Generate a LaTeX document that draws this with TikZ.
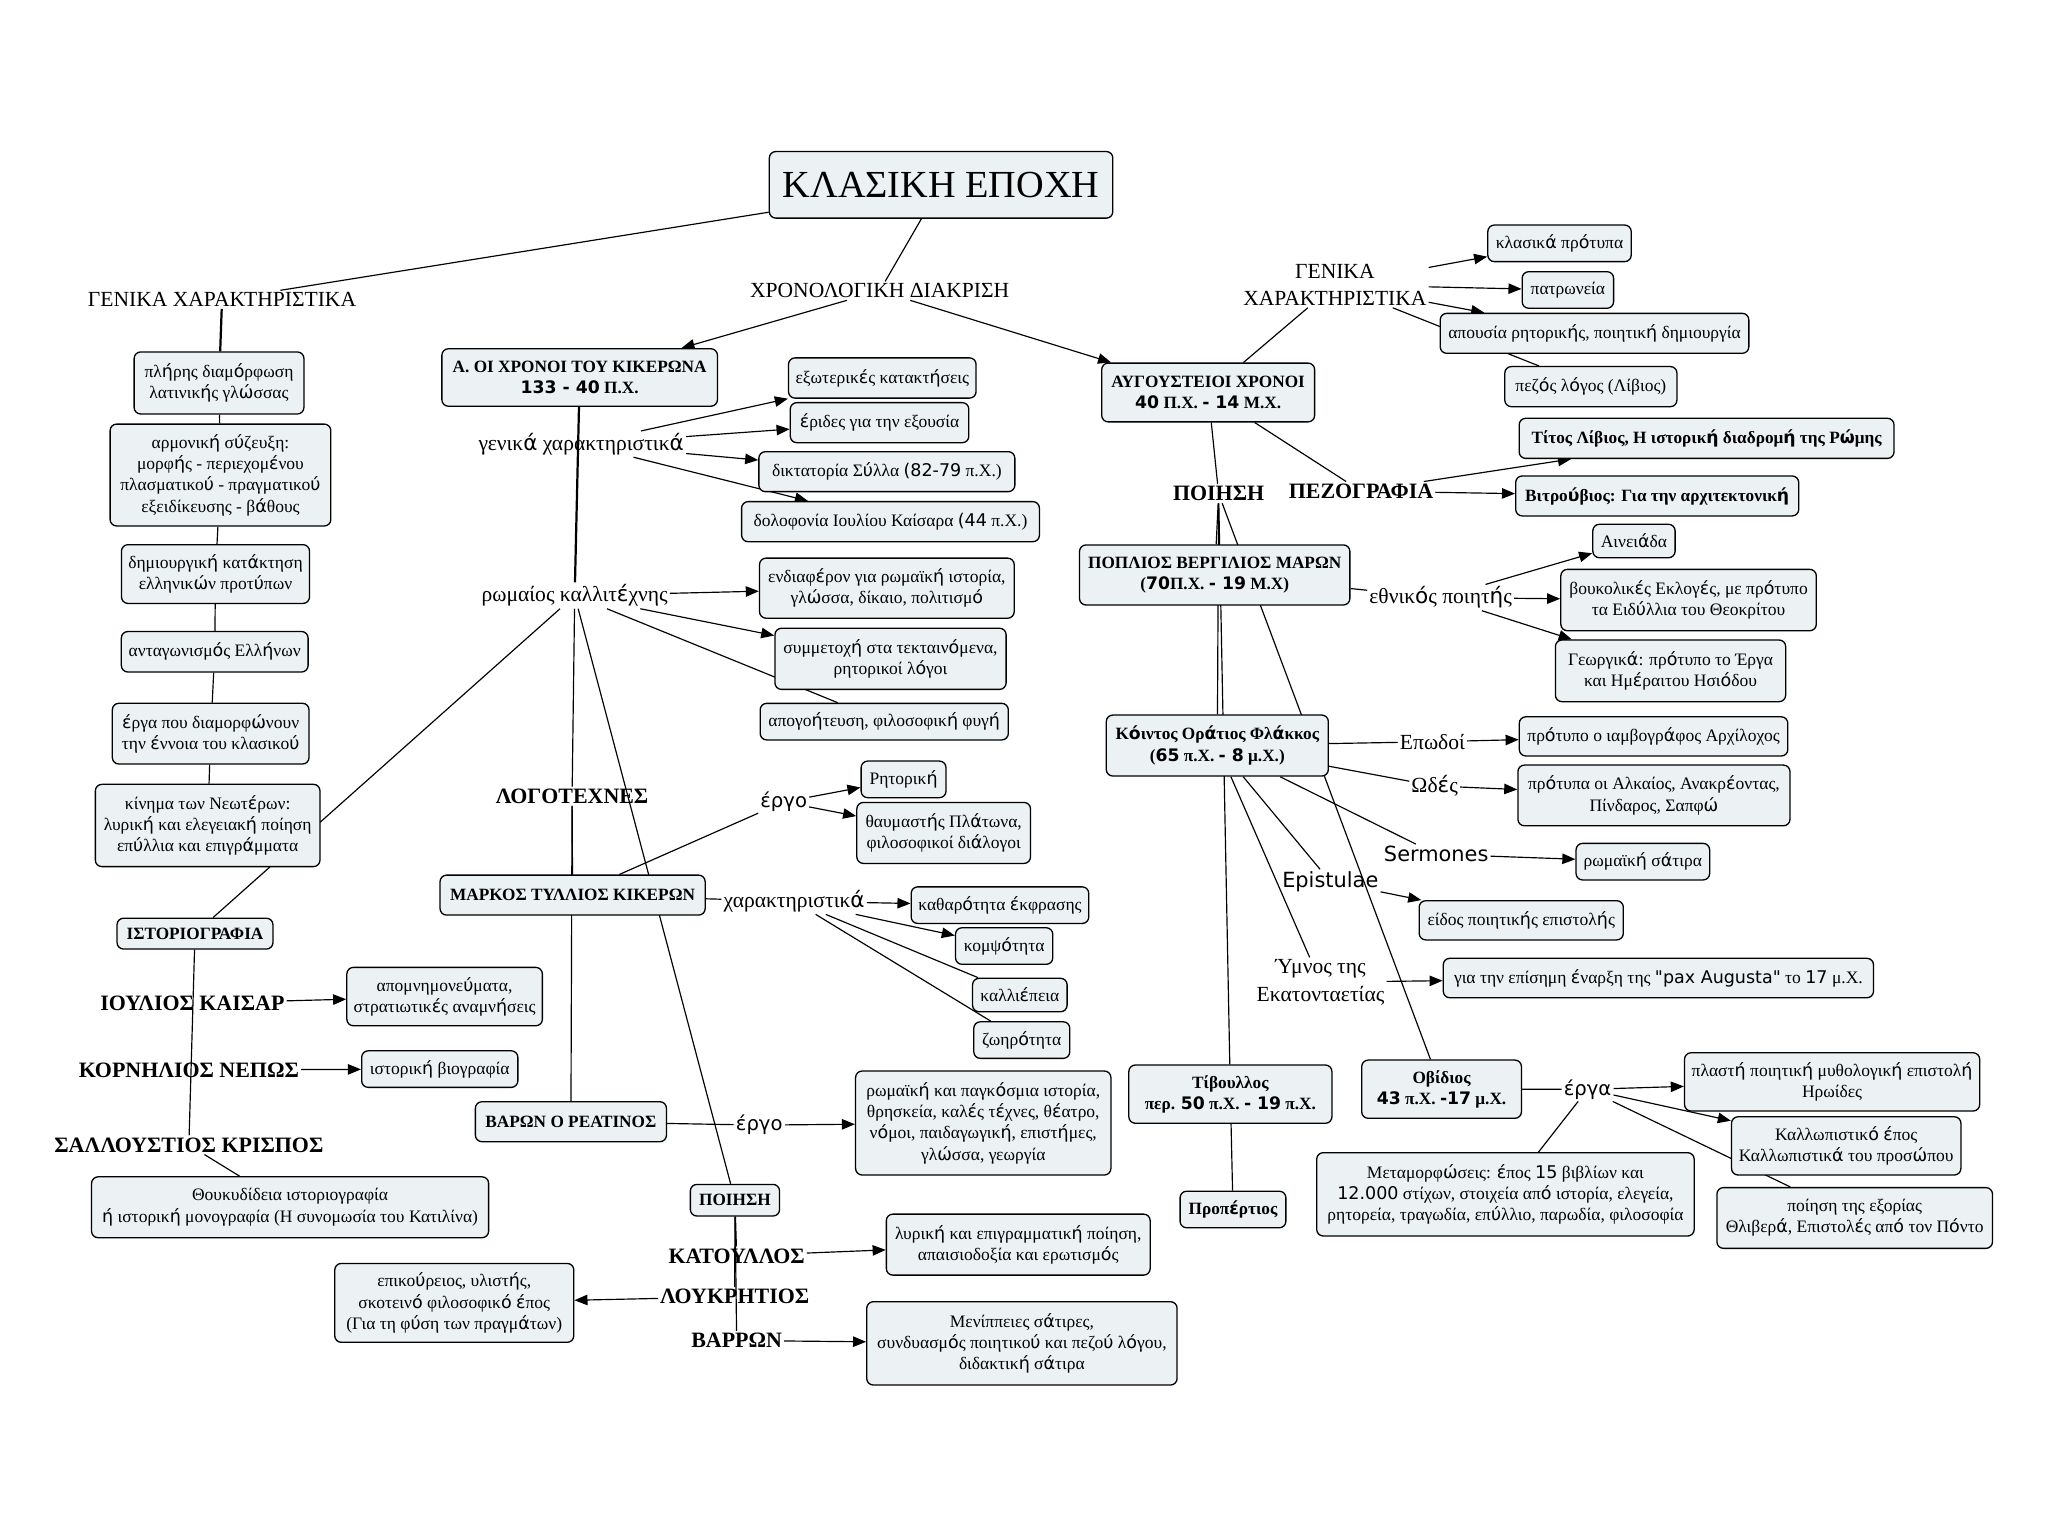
\documentclass[tikz,border=0pt]{standalone}
\usepackage{fontspec}
\setmainfont{Liberation Serif}
\newfontfamily\sn{DejaVu Sans}
\XeTeXinterchartokenstate=1
\newXeTeXintercharclass\accclass
\XeTeXcharclass"03AC=\accclass
\XeTeXcharclass"03AD=\accclass
\XeTeXcharclass"03AE=\accclass
\XeTeXcharclass"03CC=\accclass
\XeTeXcharclass"03CD=\accclass
\XeTeXcharclass"03CE=\accclass
\XeTeXinterchartoks 0 \accclass={\begingroup\sn}
\XeTeXinterchartoks 4095 \accclass={\begingroup\sn}
\XeTeXinterchartoks \accclass 0={\endgroup}
\XeTeXinterchartoks \accclass 4095={\endgroup}
\usetikzlibrary{arrows.meta}
\pgfdeclarelayer{bg}
\pgfsetlayers{bg,main}
\definecolor{boxfill}{RGB}{236,241,244}
\tikzset{
 bx/.style={draw=black, line width=1pt, rounded corners=5pt, fill=boxfill, align=center, inner sep=2pt, font=\fontsize{13.4}{16.3}\selectfont},
 bb/.style={bx, font=\fontsize{13.2}{16.3}\selectfont\bfseries},
 sz/.style 2 args={minimum width=#1pt, minimum height=#2pt},
 lab/.style={inner sep=1.5pt, align=center, font=\fontsize{16.5}{21}\selectfont},
 blab/.style={inner sep=1.5pt, align=center, font=\fontsize{16.8}{20}\selectfont\bfseries},
 slab/.style={inner sep=1.5pt, align=center, font=\sn\fontsize{15}{18}\selectfont},
 ln/.style={line width=0.9pt},
 ar/.style={line width=0.9pt, -{Triangle[length=10pt,width=8pt]}},
}
\begin{document}
\begin{tikzpicture}[x=1pt,y=-1pt]
\useasboundingbox (0,0) rectangle (1568,1179);
% ---------- top ----------
\node[bx, sz={263}{51}, font=\fontsize{29.3}{32}\selectfont] (title) at (720.5,141.5) {ΚΛΑΣΙΚΗ ΕΠΟΧΗ};
\node[lab] (gen1) at (170,229.4) {ΓΕΝΙΚΑ ΧΑΡΑΚΤΗΡΙΣΤΙΚΑ};
\node[lab] (chron) at (673.5,222.7) {ΧΡΟΝΟΛΟΓΙΚΗ ΔΙΑΚΡΙΣΗ};
\node[lab] (gen2) at (1022,218) {ΓΕΝΙΚΑ\\ΧΑΡΑΚΤΗΡΙΣΤΙΚΑ};
% ---------- left column ----------
\node[bx, sz={130}{47.5}] (b1) at (167.7,293.2) {πλήρης διαμόρφωση\\λατινικής γλώσσας};
\node[bx, sz={169}{78}] (b2) at (168.8,363.7) {αρμονική σύζευξη:\\μορφής - περιεχομένου\\πλασματικού - πραγματικού\\εξειδίκευσης - βάθους};
\node[bx, sz={144}{45}] (b3) at (165,439.5) {δημιουργική κατάκτηση\\ελληνικών προτύπων};
\node[bx, sz={143}{31}] (b4) at (164.4,499) {ανταγωνισμός Ελλήνων};
\node[bx, sz={150.6}{46.5}] (b5) at (161.3,561.7) {έργα που διαμορφώνουν\\την έννοια του κλασικού};
\node[bx, sz={172}{63}] (b6) at (159,632) {κίνημα των Νεωτέρων:\\λυρική και ελεγειακή ποίηση\\επύλλια και επιγράμματα};
\node[bb, sz={119.4}{23.6}] (ist) at (149.3,714.8) {ΙΣΤΟΡΙΟΓΡΑΦΙΑ};
\node[blab] (iul) at (147.3,768.2) {ΙΟΥΛΙΟΣ ΚΑΙΣΑΡ};
\node[bx, sz={149.7}{44.7}] (apomn) at (340.4,763) {απομνημονεύματα,\\στρατιωτικές αναμνήσεις};
\node[blab] (korn) at (144.6,819.2) {ΚΟΡΝΗΛΙΟΣ ΝΕΠΩΣ};
\node[bx, sz={119.6}{28}] (bio) at (336.7,818.5) {ιστορική βιογραφία};
\node[blab] (sall) at (144.6,876.6) {ΣΑΛΛΟΥΣΤΙΟΣ ΚΡΙΣΠΟΣ};
\node[bx, sz={304}{46.6}] (thuk) at (222.1,924.3) {Θουκυδίδεια ιστοριογραφία\\ή ιστορική μονογραφία (Η συνομωσία του Κατιλίνα)};
% ---------- Cicero era ----------
\node[bb, sz={211}{44}] (cic) at (443.8,289) {Α. ΟΙ ΧΡΟΝΟΙ ΤΟΥ ΚΙΚΕΡΩΝΑ\\{\sn 133 - 40} Π.Χ.};
\node[lab] (gk) at (445,340) {γενικά χαρακτηριστικά};
\node[bx, sz={143.6}{30.8}] (g1) at (675.5,289.4) {εξωτερικές κατακτήσεις};
\node[bx, sz={136.7}{30.7}] (g2) at (673.4,323.6) {έριδες για την εξουσία};
\node[bx, sz={196}{30.6}] (g3) at (679,361.1) {δικτατορία Σύλλα {\sn (82-79} π.Χ.)};
\node[bx, sz={228}{30.7}] (g4) at (681.8,399.4) {δολοφονία Ιουλίου Καίσαρα {\sn (44} π.Χ.)};
\node[lab] (rk) at (440,456) {ρωμαίος καλλιτέχνης};
\node[bx, sz={195}{46}] (r1) at (679,450.3) {ενδιαφέρον για ρωμαϊκή ιστορία,\\γλώσσα, δίκαιο, πολιτισμό};
\node[bx, sz={177}{46.8}] (r2) at (681.8,504.4) {συμμετοχή στα τεκταινόμενα,\\ρητορικοί λόγοι};
\node[bx, sz={190}{28}] (r3) at (677,552.5) {απογοήτευση, φιλοσοφική φυγή};
\node[blab] (logo) at (438,609.6) {ΛΟΓΟΤΕΧΝΕΣ};
\node[slab] (ergo1) at (600,614) {έργο};
\node[bx, sz={65}{28}] (rit) at (691.8,596.7) {Ρητορική};
\node[bx, sz={133}{46.7}] (thav) at (722.5,637.7) {θαυμαστής Πλάτωνα,\\φιλοσοφικοί διάλογοι};
\node[bb, sz={203}{30.6}] (mark) at (438.4,685.3) {ΜΑΡΚΟΣ ΤΥΛΛΙΟΣ ΚΙΚΕΡΩΝ};
\node[lab] (xar) at (608,690) {χαρακτηριστικά};
\node[bx, sz={136}{28}] (c1) at (765.6,693) {καθαρότητα έκφρασης};
\node[bx, sz={74.5}{28}] (c2) at (768.8,724.3) {κομψότητα};
\node[bx, sz={72.4}{25.6}] (c3) at (780.8,761.8) {καλλιέπεια};
\node[bx, sz={73.5}{28}] (c4) at (782.3,796.3) {ζωηρότητα};
\node[bb, sz={146.3}{30.6}] (var) at (437.1,858.8) {ΒΑΡΩΝ Ο ΡΕΑΤΙΝΟΣ};
\node[slab] (ergo2) at (581.3,861.4) {έργο};
\node[bx, sz={195.5}{79.6}] (pagk) at (752.8,859.8) {ρωμαϊκή και παγκόσμια ιστορία,\\θρησκεία, καλές τέχνες, θέατρο,\\νόμοι, παιδαγωγική, επιστήμες,\\γλώσσα, γεωργία};
\node[bb, sz={68.3}{24.2}] (poi1) at (562.7,918.9) {ΠΟΙΗΣΗ};
\node[blab] (katl) at (564,961.5) {ΚΑΤΟΥΛΛΟΣ};
\node[blab] (loukl) at (562.5,992.8) {ΛΟΥΚΡΗΤΙΟΣ};
\node[blab] (varrl) at (564,1026.3) {ΒΑΡΡΩΝ};
\node[bx, sz={202}{46.7}] (lyr) at (779.6,952.9) {λυρική και επιγραμματική ποίηση,\\απαισιοδοξία και ερωτισμός};
\node[bx, sz={183}{60.4}] (epik) at (347.8,997.5) {επικούρειος, υλιστής,\\σκοτεινό φιλοσοφικό έπος\\(Για τη φύση των πραγμάτων)};
\node[bx, sz={237.6}{63.8}] (men) at (782.4,1028.5) {Μενίππειες σάτιρες,\\συνδυασμός ποιητικού και πεζού λόγου,\\διδακτική σάτιρα};
% ---------- Augustan era ----------
\node[bb, sz={163}{45}] (aug) at (925,300.5) {ΑΥΓΟΥΣΤΕΙΟΙ ΧΡΟΝΟΙ\\{\sn 40} Π.Χ. {\sn - 14} Μ.Χ.};
\node[bx, sz={109.8}{28}] (k1) at (1194,186.3) {κλασικά πρότυπα};
\node[bx, sz={70}{28}] (k2) at (1200.4,222) {πατρωνεία};
\node[bx, sz={236.3}{30.6}] (k3) at (1220.8,255.2) {απουσία ρητορικής, ποιητική δημιουργία};
\node[bx, sz={131.8}{30.7}] (k4) at (1218,296) {πεζός λόγος (Λίβιος)};
\node[blab] (poi2) at (933,378) {ΠΟΙΗΣΗ};
\node[blab] (pez) at (1042,376) {ΠΕΖΟΓΡΑΦΙΑ};
\node[bb, sz={287}{30.7}] (p1) at (1306.6,335.6) {Τίτος Λίβιος, Η ιστορική διαδρομή της Ρώμης};
\node[bb, sz={216.7}{30.6}] (p2) at (1268.8,379.7) {Βιτρούβιος: Για την αρχιτεκτονική};
\node[bb, sz={207}{46}] (verg) at (930,440.2) {ΠΟΠΛΙΟΣ ΒΕΡΓΙΛΙΟΣ ΜΑΡΩΝ\\({\sn 70}Π.Χ. {\sn - 19} Μ.Χ)};
\node[lab] (ethn) at (1103,457.5) {εθνικός ποιητής};
\node[bx, sz={63}{25.6}] (v1) at (1251,414.2) {Αινειάδα};
\node[bx, sz={195.6}{47}] (v2) at (1292.8,459.4) {βουκολικές Εκλογές, με πρότυπο\\τα Ειδύλλια του Θεοκρίτου};
\node[bx, sz={176.3}{47.2}] (v3) at (1279,513.6) {Γεωργικά: πρότυπο το Έργα\\και Ημέραιτου Ησιόδου};
\node[bb, sz={170}{46.7}] (orat) at (932,570.8) {Κόιντος Οράτιος Φλάκκος\\({\sn 65} π.Χ. {\sn - 8} μ.Χ.)};
\node[lab] (epod) at (1096.7,567.9) {Επωδοί};
\node[bx, sz={205.6}{30}] (arx) at (1266,563.8) {πρότυπο ο ιαμβογράφος Αρχίλοχος};
\node[lab] (odes) at (1098.4,601.7) {Ωδές};
\node[bx, sz={208.3}{46.5}] (alk) at (1266.3,609) {πρότυπα οι Αλκαίος, Ανακρέοντας,\\Πίνδαρος, Σαπφώ};
\node[slab, font=\sn\fontsize{16}{19}\selectfont] (serm) at (1099.6,654) {Sermones};
\node[bx, sz={102.3}{28}] (sat) at (1257.8,659.7) {ρωμαϊκή σάτιρα};
\node[slab, font=\sn\fontsize{16}{19}\selectfont] (epis) at (1018.5,675) {Epistulae};
\node[bx, sz={156.3}{30}] (eidos) at (1164.7,704.6) {είδος ποιητικής επιστολής};
\node[lab] (ymn) at (1011,752) {Ύμνος της\\Εκατονταετίας};
\node[bx, sz={329.4}{30.2}] (pax) at (1269.7,748.8) {για την επίσημη έναρξη της {\sn "pax Augusta"} το {\sn 17} μ.Χ.};
\node[bb, sz={155.5}{44.6}] (tib) at (942,837.7) {Τίβουλλος\\περ. {\sn 50} π.Χ. {\sn - 19} π.Χ.};
\node[bb, sz={81}{28}] (prop) at (944,926) {Προπέρτιος};
\node[bb, sz={122.3}{44.6}] (ovid) at (1103.7,833.9) {Οβίδιος\\{\sn 43} π.Χ. {\sn -17} μ.Χ.};
\node[slab] (erga) at (1215.5,834) {έργα};
\node[bx, sz={226}{44.6}] (o1) at (1402.7,828.3) {πλαστή ποιητική μυθολογική επιστολή\\Ηρωίδες};
\node[bx, sz={175.6}{44.6}] (o2) at (1413.5,877.3) {Καλλωπιστικό έπος\\Καλλωπιστικά του προσώπου};
\node[bx, sz={211}{46.5}] (o3) at (1420,932.5) {ποίηση της εξορίας\\Θλιβερά, Επιστολές από τον Πόντο};
\node[bx, sz={289}{63.8}] (o4) at (1152.6,914.4) {Μεταμορφώσεις: έπος {\sn 15} βιβλίων και\\{\sn 12.000} στίχων, στοιχεία από ιστορία, ελεγεία,\\ρητορεία, τραγωδία, επύλλιο, παρωδία, φιλοσοφία};
% ---------- connectors ----------
\begin{pgfonlayer}{bg}
\draw[ln] (title) -- (gen1);
\draw[ln] (title) -- (chron);
\draw[ar] (chron) -- (cic);
\draw[ar] (chron) -- (aug);
\draw[ln, line width=1.7pt] (gen1) -- (b1);
\draw[ln] (b1) -- (b2);
\draw[ln] (b2) -- (b3);
\draw[ln] (b3) -- (b4);
\draw[ln] (b4) -- (b5);
\draw[ln] (b5) -- (b6);
\draw[ln] (rk) -- (ist);
\draw[ln] (ist) -- (sall);
\draw[ar] (iul) -- (apomn);
\draw[ar] (korn) -- (bio);
\draw[ln] (sall) -- (thuk);
\draw[ln, line width=1.7pt] (cic) -- (rk);
\draw[ar] (gk) -- (g1);
\draw[ar] (gk) -- (g2);
\draw[ar] (gk) -- (g3);
\draw[ar] (gk) -- (g4);
\draw[ar] (rk) -- (r1);
\draw[ar] (rk) -- (r2);
\draw[ln] (rk) -- (r3);
\draw[ln] (rk) -- (logo);
\draw[ln] (rk) -- (poi1);
\draw[ln] (logo) -- (mark);
\draw[ln] (logo) -- (var);
\draw[ln] (mark) -- (ergo1);
\draw[ar] (ergo1) -- (rit);
\draw[ar] (ergo1) -- (thav);
\draw[ln] (mark) -- (xar);
\draw[ar] (xar) -- (c1);
\draw[ar] (xar) -- (c2);
\draw[ln] (xar) -- (c3);
\draw[ln] (xar) -- (c4);
\draw[ln] (var) -- (ergo2);
\draw[ar] (ergo2) -- (pagk);
\draw[ln] (poi1) -- (katl);
\draw[ln] (poi1) -- (loukl);
\draw[ln] (poi1) -- (varrl);
\draw[ar] (katl) -- (lyr);
\draw[ar] (loukl) -- (epik);
\draw[ar] (varrl) -- (men);
\draw[ln] (gen2) -- (aug);
\draw[ar] (gen2) -- (k1);
\draw[ar] (gen2) -- (k2);
\draw[ar] (gen2) -- (k3);
\draw[ln] (gen2) -- (k4);
\draw[ln] (aug) -- (poi2);
\draw[ln] (aug) -- (pez);
\draw[ar] (pez) -- (p1);
\draw[ar] (pez) -- (p2);
\draw[ln] (poi2) -- (verg);
\draw[ln] (poi2) -- (orat);
\draw[ln] (poi2) -- (tib);
\draw[ln] (poi2) -- (ovid);
\draw[ln] (tib) -- (prop);
\draw[ln] (verg) -- (ethn);
\draw[ar] (ethn) -- (v1);
\draw[ar] (ethn) -- (v2);
\draw[ar] (ethn) -- (v3);
\draw[ln] (orat) -- (epod);
\draw[ar] (epod) -- (arx);
\draw[ln] (orat) -- (odes);
\draw[ar] (odes) -- (alk);
\draw[ln] (orat) -- (serm);
\draw[ar] (serm) -- (sat);
\draw[ln] (orat) -- (epis);
\draw[ar] (epis) -- (eidos);
\draw[ln] (orat) -- (ymn);
\draw[ar] (ymn) -- (pax);
\draw[ln] (ovid) -- (erga);
\draw[ar] (erga) -- (o1);
\draw[ar] (erga) -- (o2);
\draw[ln] (erga) -- (o3);
\draw[ln] (erga) -- (o4);
\end{pgfonlayer}
\end{tikzpicture}
\end{document}
